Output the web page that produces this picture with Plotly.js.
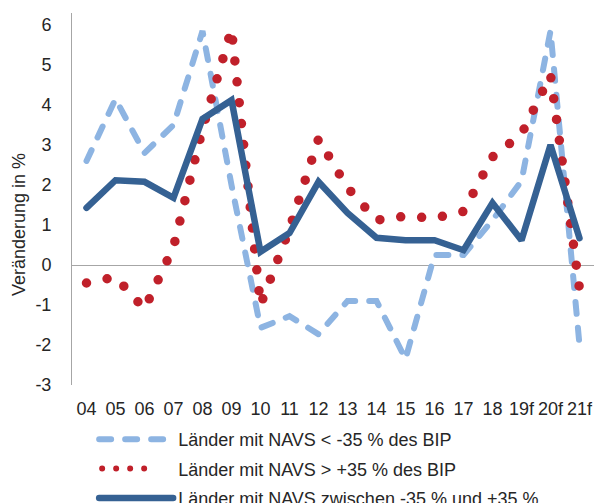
<!DOCTYPE html>
<html>
<head>
<meta charset="utf-8">
<script src="https://cdn.plot.ly/plotly-3.0.1.min.js"></script>
<style>
  html, body { margin: 0; padding: 0; background: #ffffff; }
  #chart { width: 594px; height: 503px; }
  .scatterlayer .js-line, .legend .js-line { stroke-linecap: round; }
</style>
</head>
<body>
<div id="chart"></div>
<script>
// Categories (years, f = forecast)
const categories = ['04','05','06','07','08','09','10','11','12','13','14','15','16','17','18','19f','20f','21f'];

// Series names
const nameNeg = 'Länder mit NAVS < -35 % des BIP';
const namePos = 'Länder mit NAVS > +35 % des BIP';
const nameMid = 'Länder mit NAVS zwischen -35 % und +35 %';

// Series values (Veränderung in %)
const valuesNeg = [2.6, 4.15, 2.8, 3.5, 5.85, 2.0, -1.57, -1.28, -1.73, -0.9, -0.9, -2.35, 0.25, 0.25, 1.12, 2.1, 5.85, -2.0];
const valuesPos = [-0.45, -0.3, -1.1, 0.45, 3.4, 5.9, -1.0, 0.9, 3.15, 1.93, 1.12, 1.22, 1.17, 1.34, 2.7, 3.27, 4.75, -0.6];
const valuesMid = [1.43, 2.12, 2.08, 1.68, 3.65, 4.12, 0.33, 0.8, 2.08, 1.3, 0.68, 0.62, 0.62, 0.37, 1.55, 0.62, 3.0, 0.67];

// Y tick values
const yTicks = [-3, -2, -1, 0, 1, 2, 3, 4, 5, 6];

const font = { family: '"Liberation Sans", Arial, sans-serif', size: 18, color: '#262626' };

const traces = [
  { x: categories, y: valuesNeg, name: nameNeg, legendgroup: 'a', type: 'scatter', mode: 'lines',
    line: { color: '#8DB4E2', width: 6, dash: '12px,14px' }, hoverinfo: 'skip' },
  { x: categories, y: valuesPos, name: namePos, legendgroup: 'b', type: 'scatter', mode: 'lines',
    line: { color: '#C0202A', width: 9.5, dash: '0px,21px' }, hoverinfo: 'skip' },
  { x: categories, y: valuesMid, name: nameMid, legendgroup: 'c', type: 'scatter', mode: 'lines',
    line: { color: '#356193', width: 6.5 }, hoverinfo: 'skip' }
];

const layout = {
  width: 594, height: 503,
  margin: { l: 72, r: 0, t: 13, b: 118, autoexpand: false },
  paper_bgcolor: '#ffffff', plot_bgcolor: '#ffffff',
  font: font,
  showlegend: true,
  legend: {
    xref: 'container', yref: 'container',
    x: 0.1585, y: 1 - 421 / 503, xanchor: 'left', yanchor: 'top',
    orientation: 'v', traceorder: 'grouped', tracegroupgap: 3,
    itemwidth: 74, font: font, bgcolor: 'rgba(0,0,0,0)'
  },
  xaxis: {
    type: 'category', range: [-0.5, 17.5],
    showline: false, showgrid: false, zeroline: false, ticks: '',
    ticklabelstandoff: 11, tickfont: font, fixedrange: true
  },
  yaxis: {
    range: [-3, 6.3], tickvals: yTicks, ticktext: yTicks.map(String),
    showline: true, linecolor: '#A6A6A6', linewidth: 1,
    showgrid: false, zeroline: true, zerolinecolor: '#A6A6A6', zerolinewidth: 1,
    ticks: '', ticklabelstandoff: 16, tickfont: font, fixedrange: true
  },
  annotations: [{
    text: 'Veränderung in %', xref: 'paper', yref: 'paper',
    x: -53 / 522, y: (385 - 225) / 372, xanchor: 'center', yanchor: 'middle',
    textangle: -90, showarrow: false, font: font
  }]
};

Plotly.newPlot('chart', traces, layout, { staticPlot: true, displayModeBar: false }).then(function () {
  // Legend sample for the dotted series: five small dots, as in the original legend
  document.querySelectorAll('.legend .traces').forEach(function (t) {
    const p = t.querySelector('.js-line');
    if (!p) return;
    if (p.style.stroke && t.textContent.indexOf('> +35') !== -1) {
      const d = p.getAttribute('d') || '';
      const m = d.match(/^M([\d.\-]+),([\d.\-]+)/);
      const x0 = m ? parseFloat(m[1]) : 5;
      const y0 = m ? parseFloat(m[2]) : 0;
      p.setAttribute('d', 'M' + (x0 + 3) + ',' + y0 + 'h56');
      p.style.strokeDasharray = '0px,14px';
      p.style.strokeWidth = '6px';
    }
  });
});
</script>
</body>
</html>
